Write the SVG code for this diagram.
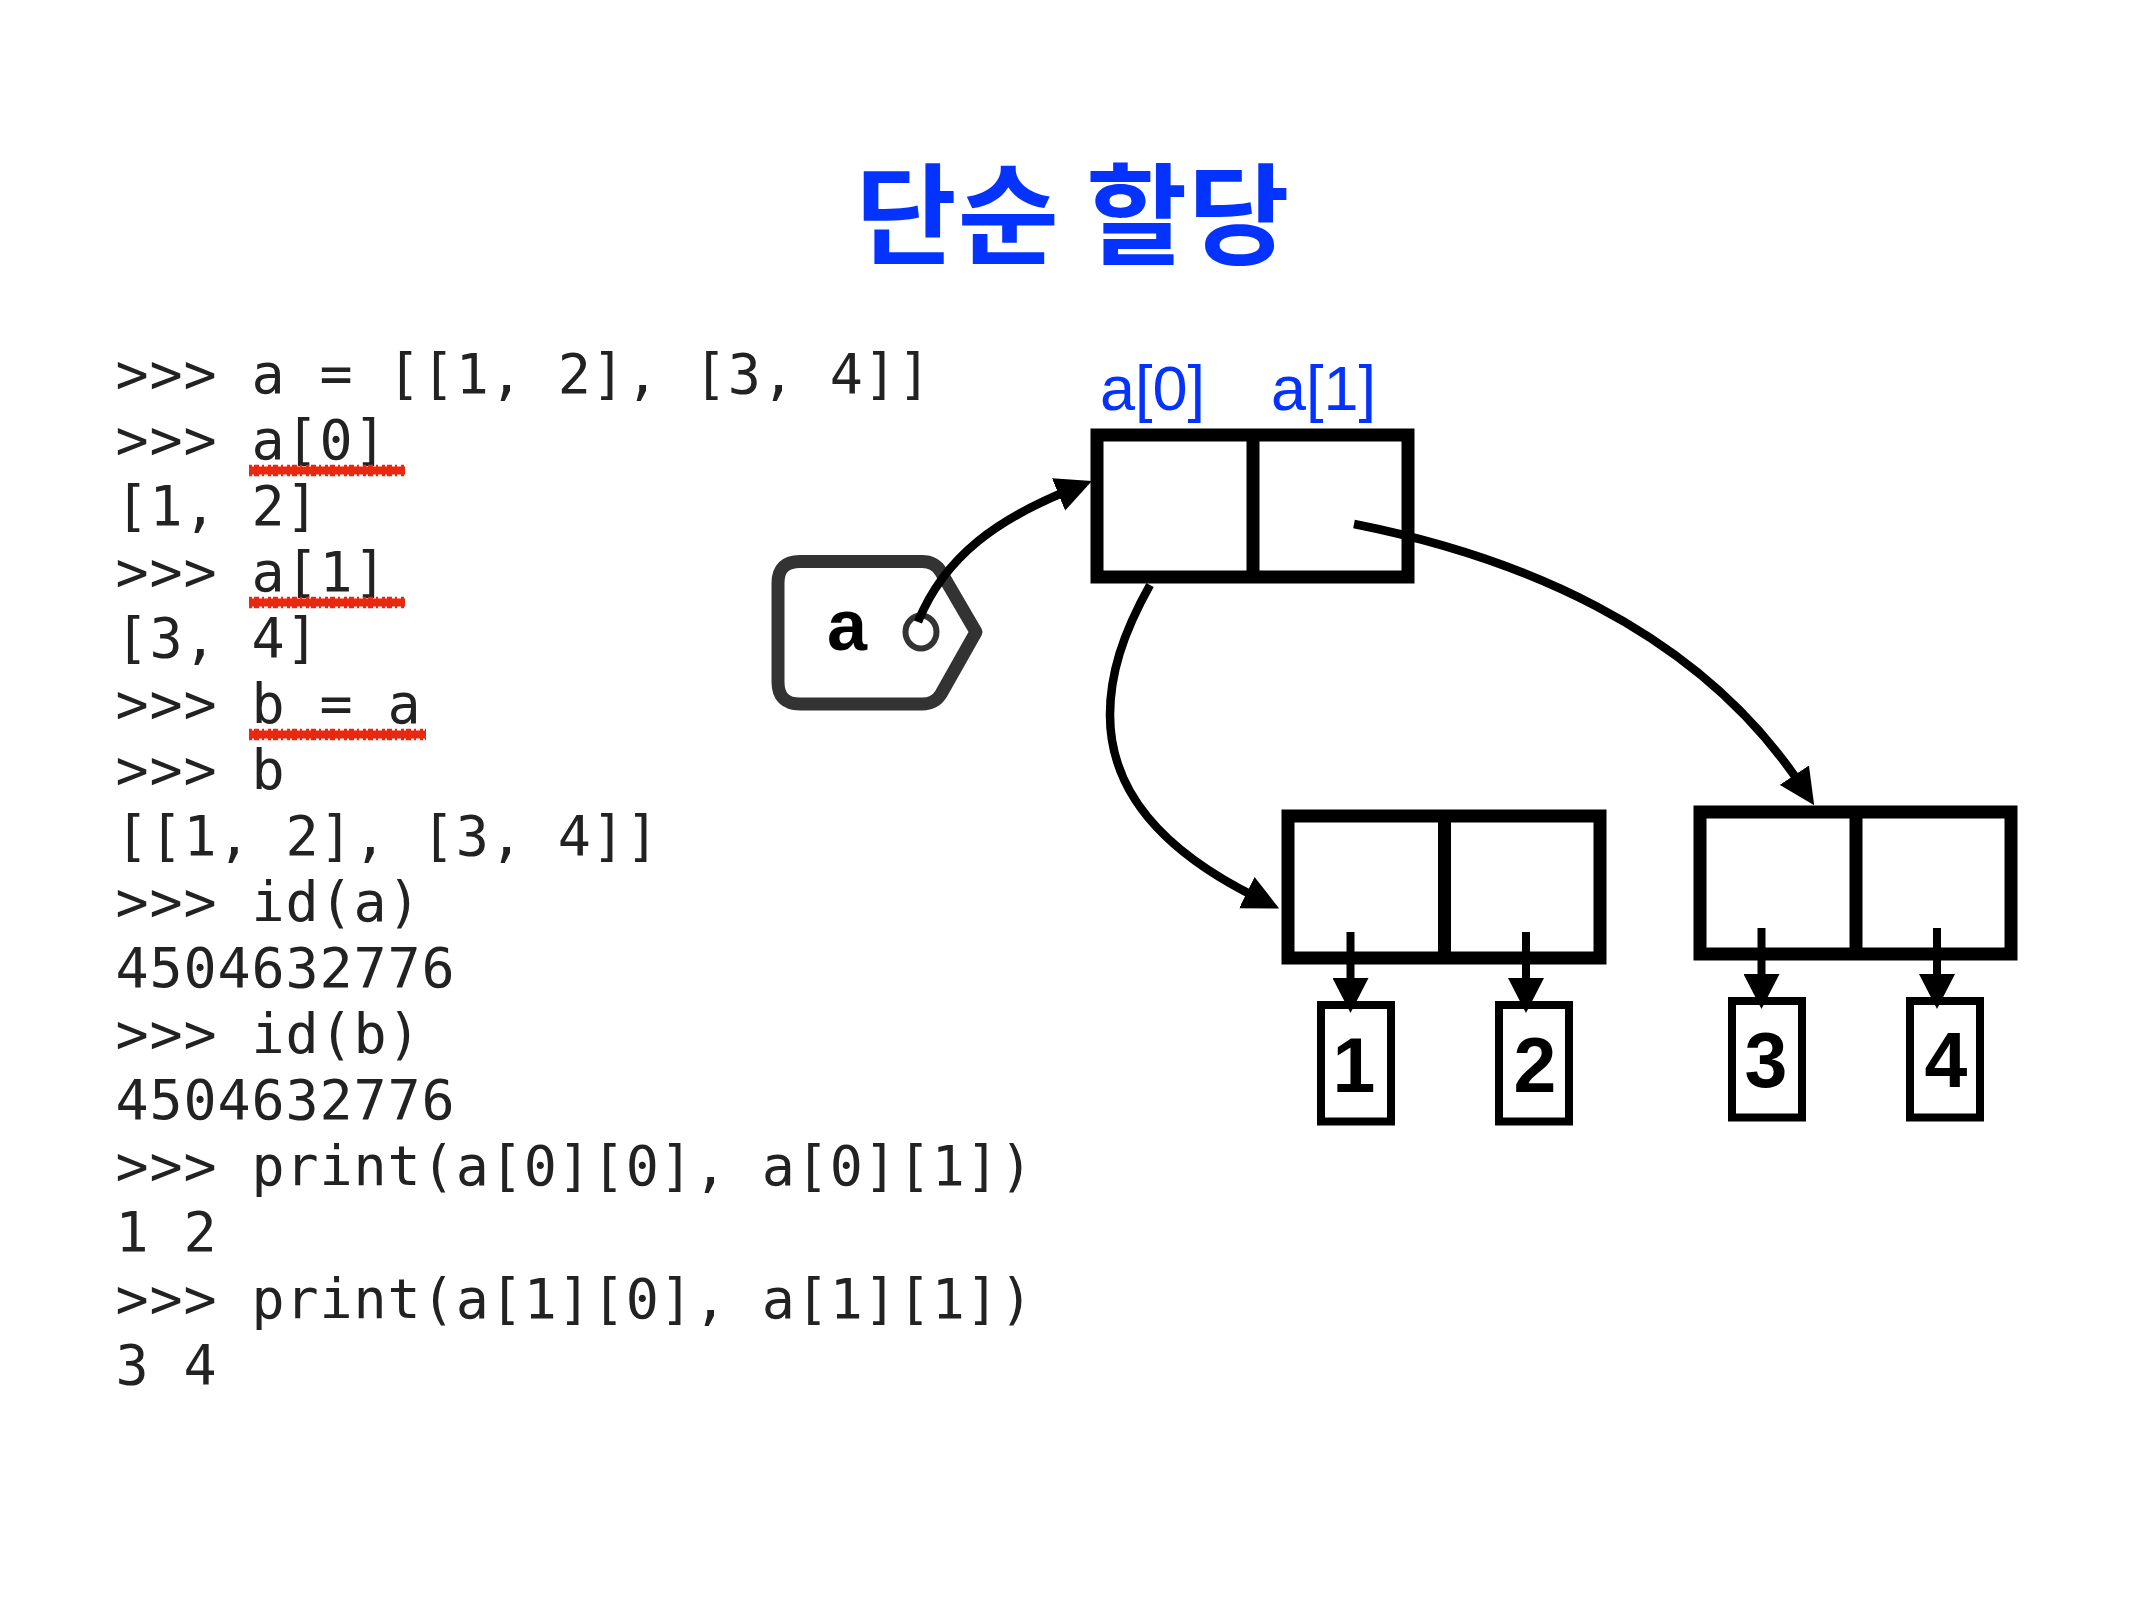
<svg xmlns="http://www.w3.org/2000/svg" width="2134" height="1600" viewBox="0 0 2134 1600">
<style>
.title{font:bold 110px "Noto Sans CJK KR","Noto Sans",sans-serif;fill:#0433ff;letter-spacing:1px}
.code{font:55px "DejaVu Sans Mono",monospace;fill:#222;letter-spacing:.9px}
.lbl{font:63px "Liberation Sans",Arial,sans-serif;fill:#0433ff}
.num{font:bold 77px "Liberation Sans",Arial,sans-serif;fill:#000;text-anchor:middle}
.cell{fill:#fff;stroke:#000;stroke-width:13}
.leaf{fill:#fff;stroke:#000;stroke-width:8}
.conn{fill:none;stroke:#000;stroke-linecap:butt}
.ul{fill:#e8290f}
.uld{stroke:#e8290f;stroke-width:2.5;stroke-dasharray:3 2 5 3 2 4}
</style>
<defs>
<marker id="big" markerUnits="userSpaceOnUse" markerWidth="36" markerHeight="36" viewBox="0 0 36 36" refX="13" refY="18" orient="auto"><path d="M0 .5L36 18L0 35.5Z"/></marker>
<marker id="small" markerUnits="userSpaceOnUse" markerWidth="36" markerHeight="36" viewBox="0 0 36 36" refX="18" refY="18" orient="auto"><path d="M1 0L36 18L1 36Z"/></marker>
</defs>
<rect width="2134" height="1600" fill="#fff"/>
<text id="title" class="title" x="1073" y="256" text-anchor="middle">단순 할당</text>
<g id="code" class="code">
<text x="115.5" y="392.5">&gt;&gt;&gt; a = [[1, 2], [3, 4]]</text>
<text x="115.5" y="458.5">&gt;&gt;&gt; a[0]</text>
<text x="115.5" y="524.6">[1, 2]</text>
<text x="115.5" y="590.7">&gt;&gt;&gt; a[1]</text>
<text x="115.5" y="656.8">[3, 4]</text>
<text x="115.5" y="722.9">&gt;&gt;&gt; b = a</text>
<text x="115.5" y="788.9">&gt;&gt;&gt; b</text>
<text x="115.5" y="855">[[1, 2], [3, 4]]</text>
<text x="115.5" y="921.1">&gt;&gt;&gt; id(a)</text>
<text x="115.5" y="987.2">4504632776</text>
<text x="115.5" y="1053.2">&gt;&gt;&gt; id(b)</text>
<text x="115.5" y="1119.3">4504632776</text>
<text x="115.5" y="1185.4">&gt;&gt;&gt; print(a[0][0], a[0][1])</text>
<text x="115.5" y="1251.4">1 2</text>
<text x="115.5" y="1317.5">&gt;&gt;&gt; print(a[1][0], a[1][1])</text>
<text x="115.5" y="1383.5">3 4</text>
</g>
<g id="underlines">
<rect class="ul" x="249" y="466.5" width="156" height="8"/><path class="uld" d="M249 466H405M249 475H405"/>
<rect class="ul" x="249" y="598.5" width="156" height="8"/><path class="uld" d="M249 598H405M249 607H405"/>
<rect class="ul" x="249" y="730.5" width="177" height="8"/><path class="uld" d="M249 730H426M249 739H426"/>
</g>
<g id="tag-a">
<path d="M800 561.5H922Q935 561.5 941 572L976 632L941 694Q935 704 922 704H800Q778 704 778 682V583Q778 561.5 800 561.5Z" fill="#fff" stroke="#333" stroke-width="13" stroke-linejoin="round"/>
<ellipse cx="921" cy="632" rx="15.5" ry="16.5" fill="#fff" stroke="#333" stroke-width="6"/>
<text x="827" y="650" style="font:bold 72px 'Liberation Sans',Arial,sans-serif;fill:#000">a</text>
</g>
<g id="list-a">
<rect class="cell" x="1097" y="435" width="311" height="142"/>
<path d="M1253 429V583" stroke="#000" stroke-width="13"/>
<text class="lbl" x="1100" y="410">a[0]</text>
<text class="lbl" x="1271" y="410">a[1]</text>
</g>
<g id="list-a0">
<rect class="cell" x="1288" y="816" width="312" height="142"/>
<path d="M1444.5 810V964" stroke="#000" stroke-width="13"/>
</g>
<g id="list-a1">
<rect class="cell" x="1700" y="812" width="311" height="142"/>
<path d="M1856 806V960" stroke="#000" stroke-width="13"/>
</g>
<g id="leaf-1"><rect class="leaf" x="1321" y="1005" width="70" height="116.5"/><text class="num" x="1354" y="1092">1</text></g>
<g id="leaf-2"><rect class="leaf" x="1499" y="1005" width="70" height="116.5"/><text class="num" x="1535" y="1092">2</text></g>
<g id="leaf-3"><rect class="leaf" x="1732" y="1001" width="70" height="116.5"/><text class="num" x="1766" y="1087">3</text></g>
<g id="leaf-4"><rect class="leaf" x="1910" y="1001" width="70" height="116.5"/><text class="num" x="1946" y="1087">4</text></g>
<g id="connectors">
<path class="conn" stroke-width="8.5" marker-end="url(#big)" d="M918 622C945 555 1000 518 1070.6 489.5"/>
<path class="conn" stroke-width="8.5" marker-end="url(#big)" d="M1150 585C1122 635 1110 675 1110 715C1110 790 1160 850 1258.5 898.4"/>
<path class="conn" stroke-width="8.5" marker-end="url(#big)" d="M1354 524C1510 555 1695 625 1801.5 786"/>
<path class="conn" stroke-width="8" marker-end="url(#small)" d="M1350.5 932V995"/>
<path class="conn" stroke-width="8" marker-end="url(#small)" d="M1526 932V995"/>
<path class="conn" stroke-width="8" marker-end="url(#small)" d="M1761.5 928V991"/>
<path class="conn" stroke-width="8" marker-end="url(#small)" d="M1937 928V991"/>
</g>
</svg>
